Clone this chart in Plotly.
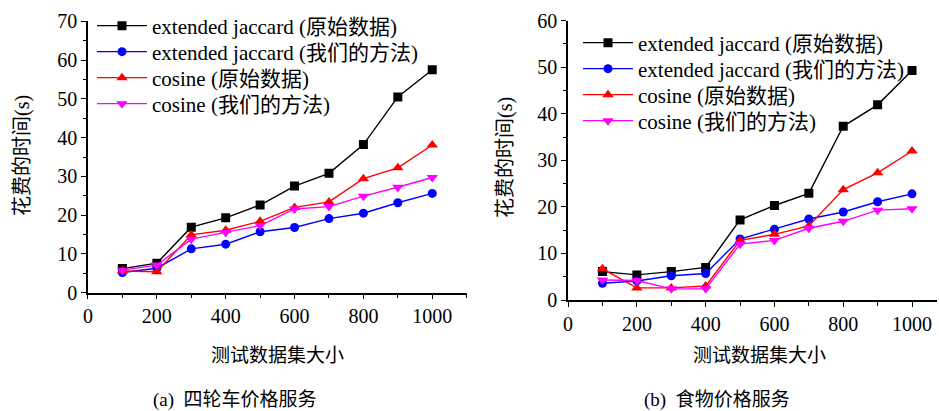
import plotly.graph_objects as go

sizes = [100, 200, 300, 400, 500, 600, 700, 800, 900, 1000]

series_names = ["extended jaccard (原始数据)", "extended jaccard (我们的方法)",
                "cosine (原始数据)", "cosine (我们的方法)"]

# (a) 四轮车价格服务
a_ej_raw = [6.2, 7.6, 16.9, 19.3, 22.6, 27.5, 30.8, 38.2, 50.5, 57.5]
a_ej_our = [5.2, 6.3, 11.3, 12.5, 15.7, 16.8, 19.1, 20.5, 23.2, 25.6]
a_cos_raw = [5.6, 5.4, 14.9, 16.1, 18.4, 22.0, 23.4, 29.4, 32.2, 38.1]
a_cos_our = [5.8, 7.1, 13.8, 15.5, 17.3, 21.6, 22.2, 24.9, 27.2, 29.7]

# (b) 食物价格服务
b_ej_raw = [6.1, 5.4, 6.1, 7.0, 17.2, 20.3, 22.9, 37.3, 41.9, 49.3]
b_ej_our = [3.6, 4.1, 5.2, 5.7, 13.1, 15.2, 17.4, 18.9, 21.1, 22.8]
b_cos_raw = [6.7, 2.6, 2.6, 3.0, 12.8, 14.1, 15.9, 23.7, 27.3, 32.0]
b_cos_our = [4.3, 4.2, 2.4, 2.4, 12.0, 12.8, 15.4, 16.9, 19.3, 19.6]

colors = ["#000000", "#0000ff", "#ff0000", "#ff00ff"]
symbols = ["square", "circle", "triangle-up", "triangle-down"]
msizes = [9, 9, 10, 10]

NUMFONT = "'Liberation Serif', 'Times New Roman', serif"
FONT = "'Liberation Serif', 'Noto Sans CJK SC', serif"

# legend row centres (px from top) for each panel
rows_a = [26, 52, 78, 104]
rows_b = [43, 69, 95, 121]

fig = go.Figure()

for i, ys in enumerate([a_ej_raw, a_ej_our, a_cos_raw, a_cos_our]):
    fig.add_trace(go.Scatter(x=sizes, y=ys, name=series_names[i], mode="lines+markers",
                             line=dict(color=colors[i], width=1.4),
                             marker=dict(symbol=symbols[i], size=msizes[i], color=colors[i]),
                             xaxis="x", yaxis="y",
                             legend="legend" if i == 0 else f"legend{i + 1}"))
for i, ys in enumerate([b_ej_raw, b_ej_our, b_cos_raw, b_cos_our]):
    fig.add_trace(go.Scatter(x=sizes, y=ys, name=series_names[i], mode="lines+markers",
                             line=dict(color=colors[i], width=1.4),
                             marker=dict(symbol=symbols[i], size=msizes[i], color=colors[i]),
                             xaxis="x2", yaxis="y2", legend=f"legend{i + 5}"))

axis_common = dict(showline=True, linecolor="black", linewidth=1.5, showgrid=False,
                   zeroline=False, ticks="outside", ticklen=5, tickcolor="black",
                   automargin=False,
                   tickfont=dict(family=NUMFONT, size=20, color="black"))

layout = dict(
    width=939, height=411,
    margin=dict(l=0, r=0, t=0, b=0, autoexpand=False),
    paper_bgcolor="white", plot_bgcolor="white",
    font=dict(family=FONT, color="black"),
    showlegend=True,
    xaxis=dict(domain=[0.0937, 0.497], range=[0, 1100], dtick=200, anchor="y",
               minor=dict(dtick=100, ticks="outside", ticklen=4, tickcolor="black"),
               **axis_common),
    yaxis=dict(domain=[0.288, 0.948], range=[0, 70], dtick=10, anchor="x",
               minor=dict(dtick=5, ticks="outside", ticklen=3, tickcolor="black"),
               **axis_common),
    xaxis2=dict(domain=[0.605, 0.998], range=[0, 1073], dtick=200, anchor="y2",
                minor=dict(dtick=100, ticks="outside", ticklen=4, tickcolor="black"),
                **axis_common),
    yaxis2=dict(domain=[0.270, 0.950], range=[0, 60], dtick=10, anchor="x2",
                minor=dict(dtick=5, ticks="outside", ticklen=3, tickcolor="black"),
                **axis_common),
)

for k in range(8):
    key = "legend" if k == 0 else f"legend{k + 1}"
    if k < 4:
        lx, ly = 92, rows_a[k]
    else:
        lx, ly = 578, rows_b[k - 4]
    layout[key] = dict(x=lx / 939, y=1 - ly / 411, xanchor="left", yanchor="middle",
                       bgcolor="rgba(0,0,0,0)", itemwidth=50,
                       font=dict(family=FONT, size=21, color="black"))

fig.update_layout(**layout)

ann = [
    dict(text="花费的时间(s)", x=22 / 939, y=1 - 156 / 411, textangle=-90, size=20),
    dict(text="花费的时间(s)", x=505 / 939, y=1 - 158 / 411, textangle=-90, size=20),
    dict(text="测试数据集大小", x=277 / 939, y=1 - 355 / 411, size=19),
    dict(text="测试数据集大小", x=759 / 939, y=1 - 355 / 411, size=19),
    dict(text="(a)  四轮车价格服务", x=235 / 939, y=1 - 400 / 411, size=19),
    dict(text="(b)  食物价格服务", x=717 / 939, y=1 - 400 / 411, size=19),
]
for a in ann:
    size = a.pop("size")
    fig.add_annotation(xref="paper", yref="paper", showarrow=False,
                       font=dict(family=FONT, size=size, color="black"),
                       xanchor="center", yanchor="middle", **a)

fig.write_html("out.html", config={"displayModeBar": False},
               post_script="document.body.style.margin='0';document.body.style.padding='0';")
